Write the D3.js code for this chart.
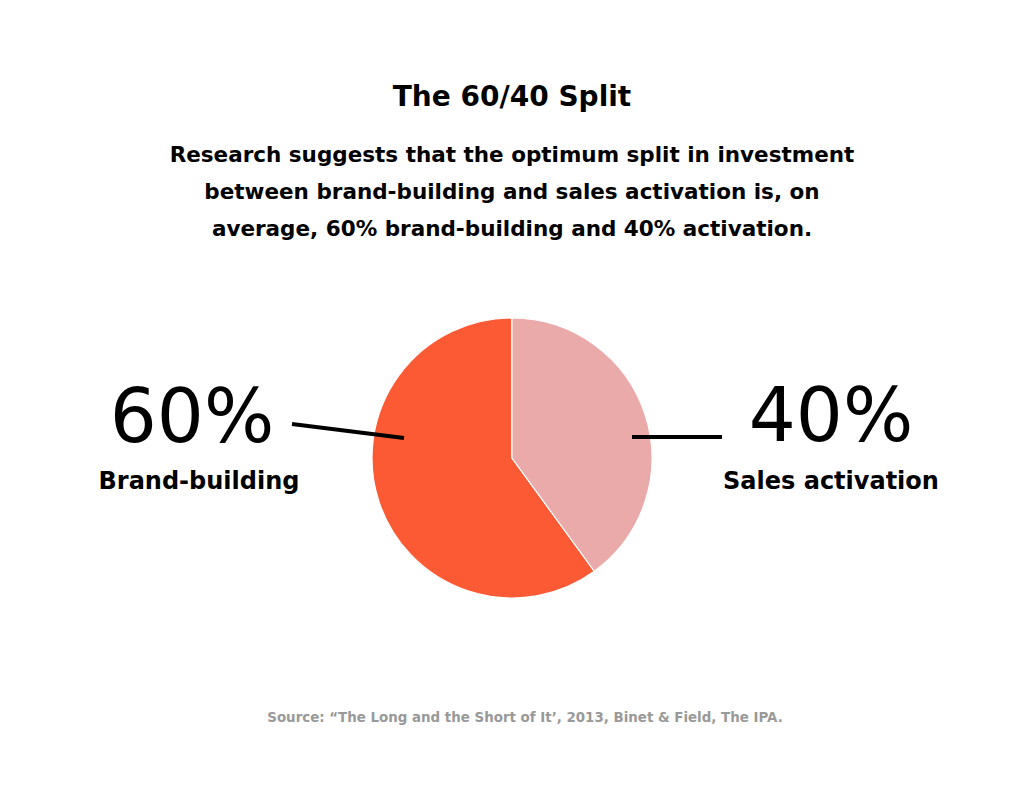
<!DOCTYPE html>
<html>
<head>
<meta charset="utf-8">
<script src="https://cdn.jsdelivr.net/npm/d3@7"></script>
<style>
  body { margin: 0; background: #fff; }
  svg { display: block; font-family: "DejaVu Sans", sans-serif; }
</style>
</head>
<body>
<div id="chart"></div>
<script>
// data
const categories = ["Brand-building", "Sales activation"];
const values = [60, 40];
const sliceColors = ["#fc5a35", "#ebaaaa"];
const title = "The 60/40 Split";
const subtitle = [
  "Research suggests that the optimum split in investment",
  "between brand-building and sales activation is, on",
  "average, 60% brand-building and 40% activation."
];
const source = "Source: \u201CThe Long and the Short of It\u2019, 2013, Binet & Field, The IPA.";

const width = 1024, height = 792;
const cx = 512, cy = 458, radius = 140;

const svg = d3.select("#chart").append("svg")
  .attr("width", width)
  .attr("height", height);

// title + subtitle
svg.append("text")
  .attr("x", width / 2).attr("y", 106)
  .attr("text-anchor", "middle")
  .style("font-size", "28px").style("font-weight", "bold")
  .style("fill", "#000")
  .text(title);

svg.selectAll(".sub")
  .data(subtitle).enter()
  .append("text")
  .attr("class", "sub")
  .attr("x", width / 2)
  .attr("y", (d, i) => 162 + i * 37)
  .attr("text-anchor", "middle")
  .style("font-size", "21.5px").style("font-weight", "bold")
  .style("fill", "#000")
  .text(d => d);

// pie: sales activation starts at 12 o'clock going clockwise
const total = d3.sum(values);
const offset = 2 * Math.PI * values[1] / total;
const pie = d3.pie().sort(null).value(d => d)
  .startAngle(offset).endAngle(offset + 2 * Math.PI);
const arc = d3.arc().innerRadius(0).outerRadius(radius);

const g = svg.append("g").attr("transform", "translate(" + cx + "," + cy + ")");
g.selectAll("path")
  .data(pie(values)).enter()
  .append("path")
  .attr("d", arc)
  .style("fill", (d, i) => sliceColors[i])
  .style("stroke", "#fff")
  .style("stroke-width", 1.2);

// labels + leader lines (one per slice)
const labelPos = [
  { x: 192, nameX: 199, pctY: 442, nameY: 489, line: [[292, 424], [404, 438]] },
  { x: 831, nameX: 831, pctY: 441, nameY: 489, line: [[632, 437], [722, 437]] }
];

labelPos.forEach(function(p, i) {
  svg.append("path")
    .attr("d", d3.line()(p.line))
    .style("stroke", "#000").style("stroke-width", 4).style("fill", "none");
  svg.append("text")
    .attr("x", p.x).attr("y", p.pctY)
    .attr("text-anchor", "middle")
    .style("font-size", "74px").style("font-weight", 400)
    .style("fill", "#000")
    .text(values[i] + "%");
  svg.append("text")
    .attr("x", p.nameX).attr("y", p.nameY)
    .attr("text-anchor", "middle")
    .style("font-size", "24px").style("font-weight", "bold")
    .style("fill", "#000")
    .text(categories[i]);
});

// source
svg.append("text")
  .attr("x", 525).attr("y", 722)
  .attr("text-anchor", "middle")
  .style("font-size", "13.4px").style("font-weight", "bold")
  .style("fill", "#999")
  .text(source);
</script>
</body>
</html>
